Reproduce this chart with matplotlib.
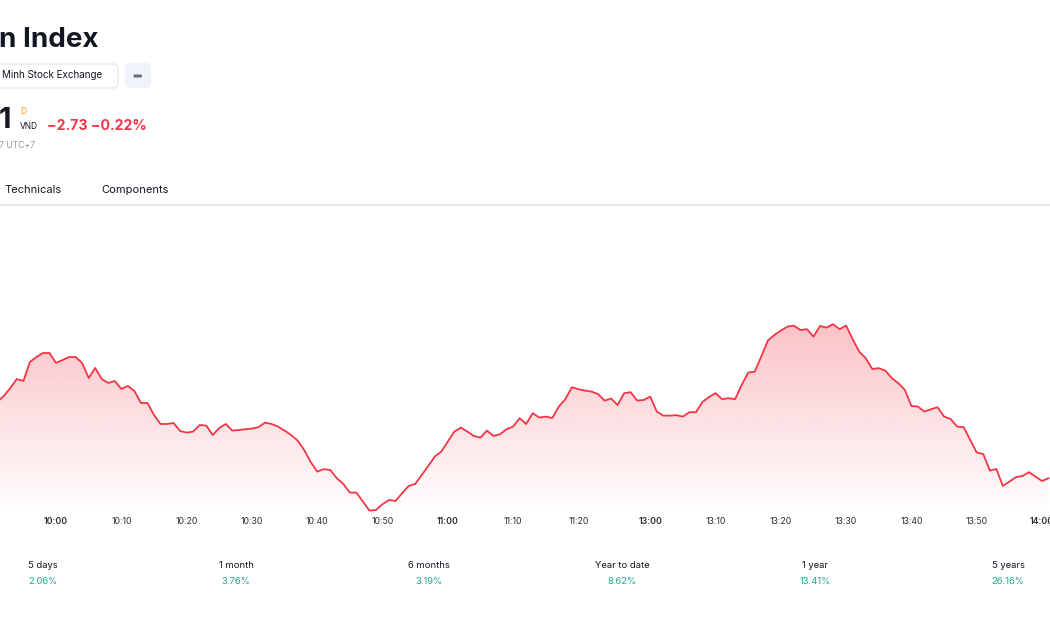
import numpy as np
import pandas as pd
import matplotlib
matplotlib.use('agg')
import matplotlib.pyplot as plt
from matplotlib.patches import FancyBboxPatch, Polygon
from matplotlib.colors import to_rgb

plt.rcParams['font.family'] = ['Inter', 'DejaVu Sans']

# one bar per minute, lunch break removed (11:30 -> 13:00)
morning = pd.date_range('2024-01-01 09:51', '2024-01-01 11:30', freq='min')
afternoon = pd.date_range('2024-01-01 13:00', '2024-01-01 14:01', freq='min')
times = [t.strftime('%H:%M') for t in morning.append(afternoon)]

prices = [
    1241.90, 1242.20, 1242.60, 1243.05, 1242.95, 1243.90, 1244.15, 1244.35, 1244.35,
    1243.85, 1244.00, 1244.15, 1244.15, 1243.85, 1243.10, 1243.60, 1243.05, 1242.85, 1242.95,
    1242.55, 1242.70, 1242.45, 1241.85, 1241.85, 1241.25, 1240.80, 1240.80, 1240.85, 1240.45,
    1240.37, 1240.42, 1240.75, 1240.72, 1240.25, 1240.60, 1240.80, 1240.47, 1240.50, 1240.54,
    1240.57, 1240.64, 1240.87, 1240.80, 1240.67, 1240.47, 1240.25, 1239.97, 1239.50, 1238.90,
    1238.42, 1238.54, 1238.50, 1238.09, 1237.80, 1237.37, 1237.37, 1236.92, 1236.47, 1236.50,
    1236.79, 1237.00, 1236.95, 1237.34, 1237.70, 1237.80, 1238.25, 1238.70, 1239.17, 1239.42,
    1239.92, 1240.42, 1240.62, 1240.42, 1240.20, 1240.12, 1240.47, 1240.20, 1240.29, 1240.54,
    1240.67, 1241.09, 1240.80, 1241.34, 1241.12, 1241.17, 1241.10, 1241.67, 1242.04, 1242.64,
    1242.54, 1242.47, 1242.42, 1242.30, 1241.97, 1242.07, 1241.75, 1242.34, 1242.39, 1241.97,
    1242.00,
    1242.17, 1241.42, 1241.22, 1241.22, 1241.24, 1241.17, 1241.39, 1241.39, 1241.90,
    1242.15, 1242.34, 1242.04, 1242.09, 1242.04, 1242.75, 1243.37, 1243.42, 1244.17, 1244.97,
    1245.25, 1245.47, 1245.67, 1245.72, 1245.50, 1245.54, 1245.17, 1245.70, 1245.62, 1245.79,
    1245.54, 1245.72, 1245.04, 1244.42, 1244.09, 1243.55, 1243.59, 1243.47, 1243.09, 1242.84,
    1242.50, 1241.70, 1241.67, 1241.42, 1241.54, 1241.64, 1241.17, 1241.05, 1240.67, 1240.64,
    1240.00, 1239.37, 1239.30, 1238.47, 1238.55, 1237.70, 1237.92, 1238.14, 1238.20, 1238.39,
    1238.17, 1237.95, 1238.09,
]

tick_times = ['10:00', '10:10', '10:20', '10:30', '10:40', '10:50', '11:00', '11:10', '11:20',
              '13:00', '13:10', '13:20', '13:30', '13:40', '13:50', '14:00']
bold_ticks = ['10:00', '11:00', '13:00', '14:00']

periods = ['5 days', '1 month', '6 months', 'Year to date', '1 year', '5 years']
period_changes = ['2.06%', '3.76%', '3.19%', '8.62%', '13.41%', '26.16%']

RED = '#F23645'
GREEN = '#22ab94'
DARK = '#131722'
GREY = '#9598a1'
W, H = 1050, 630

fig = plt.figure(figsize=(W / 100, H / 100), dpi=100)
fig.patch.set_facecolor('white')


def fx(x):
    return x / W


def fy(y):
    return 1 - y / H


# ---- header ----
fig.text(fx(-1), fy(40), 'n Index', fontsize=20, fontweight='bold', color=DARK, va='center')

inch = fig.dpi_scale_trans
box = FancyBboxPatch((-0.10, (H - 88) / 100), 1.28, 0.24,
                     boxstyle='round,pad=0,rounding_size=0.05',
                     transform=inch, facecolor='white', edgecolor='#e6e8ee', lw=1)
fig.patches.append(box)
fig.text(fx(2), fy(75), 'Minh Stock Exchange', fontsize=7.1, color=DARK, va='center')
btn = FancyBboxPatch((1.25, (H - 88) / 100), 0.26, 0.25,
                     boxstyle='round,pad=0,rounding_size=0.05',
                     transform=inch, facecolor='#f0f3fa', edgecolor='none')
fig.patches.append(btn)
dash = FancyBboxPatch((1.335, (H - 77.5) / 100), 0.085, 0.03,
                      boxstyle='round,pad=0,rounding_size=0.012',
                      transform=inch, facecolor='#6a6d78', edgecolor='none')
fig.patches.append(dash)

fig.text(fx(-1), fy(120), '1', fontsize=21, fontweight='bold', color=DARK, va='center')
fig.text(fx(20), fy(112), 'D', fontsize=6, color='#ff9800', va='center')
fig.text(fx(20), fy(127), 'VND', fontsize=6, color=DARK, va='center')
fig.text(fx(47), fy(126), '\u22122.73 \u22120.22%', fontsize=10.2, fontweight='bold',
         color=RED, va='center')
fig.text(fx(-1), fy(145), '7 UTC+7', fontsize=6.2, color=GREY, va='center')

fig.text(fx(4), fy(190), 'Technicals', fontsize=8, color=DARK, va='center')
fig.text(fx(101), fy(190), 'Components', fontsize=8, color=DARK, va='center')
fig.lines.append(plt.Line2D([0, 1], [fy(204.5), fy(204.5)], transform=fig.transFigure,
                            color='#e0e3eb', lw=1.2))

# ---- chart ----
ax = fig.add_axes([0, fy(514), 1, (514 - 210) / H])
pos = np.arange(len(prices))
x0, x1 = 0.42, 161.22
ybot, ytop = 1236.3, 1251.5
ax.set_xlim(x0, x1)
ax.set_ylim(ybot, ytop)

verts = [(pos[0], ybot)] + list(zip(pos, prices)) + [(pos[-1], ybot)]
clip = Polygon(verts, closed=True, facecolor='none', edgecolor='none')
ax.add_patch(clip)

grad = np.zeros((256, 1, 4))
grad[:, 0, :3] = to_rgb(RED)
grad[:, 0, 3] = np.linspace(0.30, 0.0, 256)
im = ax.imshow(grad, extent=[x0, x1, ybot, max(prices)], aspect='auto',
               origin='upper', zorder=1)
im.set_clip_path(clip)

ax.plot(pos, prices, color=RED, lw=1.3, zorder=3, solid_joinstyle='round')

tick_pos = [times.index(t) for t in tick_times]
ax.set_xticks(tick_pos)
ax.set_xticklabels(tick_times)
for lab in ax.get_xticklabels():
    if lab.get_text() in bold_ticks:
        lab.set_fontweight('semibold')
ax.tick_params(axis='x', length=0, pad=2.5, labelsize=6.3, colors='#2a2e39')
ax.set_yticks([])
for sp in ax.spines.values():
    sp.set_visible(False)
ax.patch.set_alpha(0)

# ---- performance row ----
for i, (p, c) in enumerate(zip(periods, period_changes)):
    xc = 43 + 193 * i
    fig.text(fx(xc), fy(566), p, fontsize=6.8, color=DARK, ha='center', va='center')
    fig.text(fx(xc), fy(582), c, fontsize=6.8, color=GREEN, ha='center', va='center')

fig.savefig('out.png', dpi=100)
